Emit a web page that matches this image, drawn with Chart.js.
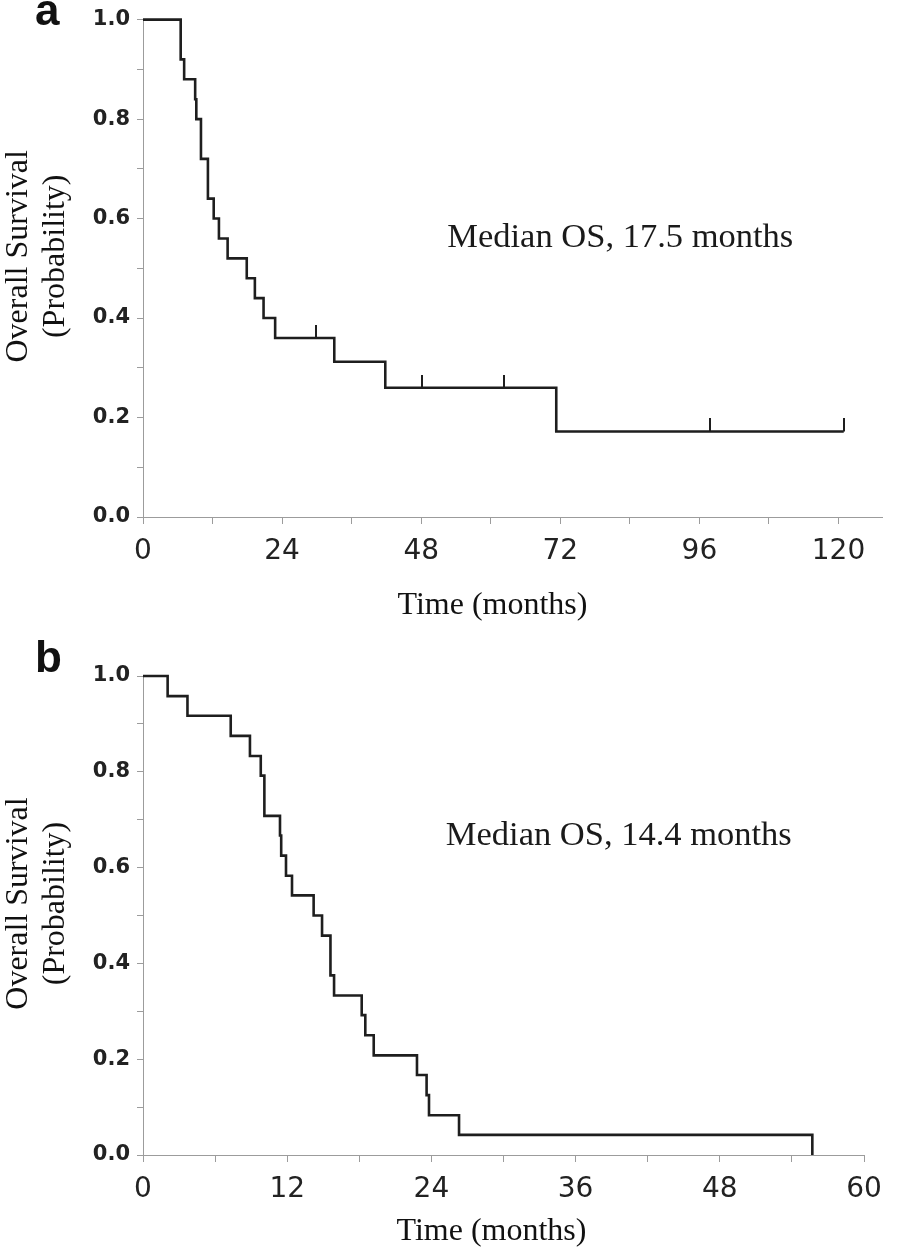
<!DOCTYPE html>
<html>
<head>
<meta charset="utf-8">
<script src="https://cdn.jsdelivr.net/npm/chart.js@4.4.1/dist/chart.umd.min.js"></script>
<style>
  body { margin: 0; background: #fff; width: 904px; height: 1253px; position: relative; overflow: hidden; }
  .panel { position: absolute; left: 0; width: 904px; }
  .tag { position: absolute; font: bold 44px "Liberation Sans", Arial, sans-serif; line-height: 44px; color: #111; }
</style>
</head>
<body>
<div class="panel" style="top:0;height:640px"><canvas id="chartA"></canvas></div>
<div class="panel" style="top:640px;height:613px"><canvas id="chartB"></canvas></div>
<div class="tag" style="left:35px;top:-12px">a</div>
<div class="tag" style="left:35px;top:635px">b</div>
<script>
// panel a: Kaplan-Meier steps (months, survival)
const monthsA = [0, 6.5, 7.1, 9.0, 9.2, 10.0, 11.2, 12.2, 13.1, 14.6, 17.9, 19.3, 20.8, 22.8, 33.0, 41.8, 71.3, 120.9];
const survA   = [1.0, 0.92, 0.88, 0.84, 0.80, 0.72, 0.64, 0.60, 0.56, 0.52, 0.48, 0.44, 0.40, 0.36, 0.312, 0.26, 0.172, 0.172];
const censorMonthsA = [29.9, 48.2, 62.2, 97.9, 120.9];
const censorSurvA   = [0.36, 0.26, 0.26, 0.172, 0.172];
const xTicksA  = [0, 12, 24, 36, 48, 60, 72, 84, 96, 108, 120];
const xLabelsA = [0, 24, 48, 72, 96, 120];

// panel b
const monthsB = [0, 2.05, 3.7, 7.3, 8.9, 9.8, 10.1, 11.4, 11.5, 11.9, 12.4, 14.2, 14.9, 15.6, 15.9, 18.2, 18.5, 19.2, 22.8, 23.6, 23.8, 26.3, 55.7];
const survB   = [1.0, 0.958, 0.917, 0.875, 0.833, 0.792, 0.708, 0.667, 0.625, 0.583, 0.542, 0.50, 0.458, 0.375, 0.333, 0.292, 0.25, 0.208, 0.167, 0.125, 0.083, 0.042, 0.0];
const xTicksB  = [0, 6, 12, 18, 24, 30, 36, 42, 48, 54, 60];
const xLabelsB = [0, 12, 24, 36, 48, 60];

const yTicks  = [0, 0.1, 0.2, 0.3, 0.4, 0.5, 0.6, 0.7, 0.8, 0.9, 1.0];
const yLabels = [0, 0.2, 0.4, 0.6, 0.8, 1.0];

const INK = '#1e1e1e';
const AXIS = '#9c9c9c';
const SERIF = '"Liberation Serif", "Times New Roman", serif';
const SANS = '"DejaVu Sans", Verdana, sans-serif';

// censor tick: small vertical bar sitting on top of the curve
function censorMark() {
  const c = document.createElement('canvas');
  c.width = 2; c.height = 26;
  const g = c.getContext('2d');
  g.fillStyle = INK;
  g.fillRect(0, 0, 2, 13);
  return c;
}

const notePlugin = {
  id: 'note',
  afterDraw(chart, args, opts) {
    if (!opts.text) return;
    const { ctx, scales: { x, y } } = chart;
    ctx.save();
    ctx.font = '34.5px ' + SERIF;
    ctx.fillStyle = '#1a1a1a';
    ctx.textBaseline = 'alphabetic';
    ctx.fillText(opts.text, x.getPixelForValue(opts.x), y.getPixelForValue(opts.y));
    ctx.restore();
  }
};

function kmChart(id, o) {
  const datasets = [{
    data: o.months.map((m, i) => ({ x: m, y: o.surv[i] })),
    stepped: true,
    borderColor: INK,
    borderWidth: 2.6,
    pointRadius: 0,
    fill: false,
    clip: 8
  }];
  if (o.censorMonths) {
    datasets.push({
      data: o.censorMonths.map((m, i) => ({ x: m, y: o.censorSurv[i] })),
      showLine: false,
      pointStyle: censorMark(),
      pointRadius: 6,
      clip: 20
    });
  }
  return new Chart(document.getElementById(id), {
    type: 'line',
    data: { datasets },
    plugins: [notePlugin],
    options: {
      responsive: true,
      maintainAspectRatio: false,
      animation: false,
      layout: { padding: o.pad },
      plugins: {
        legend: { display: false },
        tooltip: { enabled: false },
        note: o.note
      },
      scales: {
        x: {
          type: 'linear',
          bounds: 'data',
          min: 0,
          max: o.xMax,
          afterBuildTicks: s => { s.ticks = o.xTicks.map(v => ({ value: v })); },
          afterFit: s => { s.height = o.xAxisH; },
          ticks: {
            autoSkip: false,
            maxRotation: 0,
            padding: 11,
            color: '#222',
            font: { family: SANS, size: 28 },
            callback: v => o.xLabels.includes(v) ? String(v) : ''
          },
          grid: { drawOnChartArea: false, drawTicks: true, tickLength: 7, color: AXIS, lineWidth: 1 },
          border: { display: true, color: AXIS, width: 1 },
          title: {
            display: true,
            // trailing spaces nudge the centred title left, as in the original
            text: 'Time (months)' + ' '.repeat(o.xTitleNudge),
            color: '#111',
            font: { family: SERIF, size: 32, lineHeight: 1.15 },
            padding: { top: 0, bottom: o.xTitlePad }
          }
        },
        y: {
          type: 'linear',
          bounds: 'data',
          min: 0,
          max: 1,
          afterBuildTicks: s => { s.ticks = yTicks.map(v => ({ value: v })); },
          afterFit: s => { s.width = 143; },
          ticks: {
            autoSkip: false,
            padding: 7,
            color: '#222',
            font: { family: SANS, size: 21, weight: 'bold' },
            callback: v => yLabels.includes(v) ? v.toFixed(1) : ''
          },
          grid: { drawOnChartArea: false, drawTicks: true, tickLength: 6, color: AXIS, lineWidth: 1 },
          border: { display: true, color: AXIS, width: 1 },
          title: {
            display: true,
            text: ['   Overall Survival', '   (Probability)'],
            color: '#111',
            font: { family: SERIF, size: 32, lineHeight: 1.15 },
            padding: 0
          }
        }
      }
    }
  });
}

kmChart('chartA', {
  months: monthsA, surv: survA,
  censorMonths: censorMonthsA, censorSurv: censorSurvA,
  xTicks: xTicksA, xLabels: xLabelsA, xMax: 127.5,
  pad: { top: 16, right: 22, left: 0, bottom: 0 },
  xAxisH: 123, xTitlePad: 16, xTitleNudge: 5,
  note: { text: 'Median OS, 17.5 months', x: 52.5, y: 0.543 }
});

kmChart('chartB', {
  months: monthsB, surv: survB,
  xTicks: xTicksB, xLabels: xLabelsB, xMax: 60,
  pad: { top: 36, right: 40, left: 0, bottom: 0 },
  xAxisH: 98, xTitlePad: 3, xTitleNudge: 3,
  note: { text: 'Median OS, 14.4 months', x: 25.2, y: 0.648 }
});
</script>
</body>
</html>
